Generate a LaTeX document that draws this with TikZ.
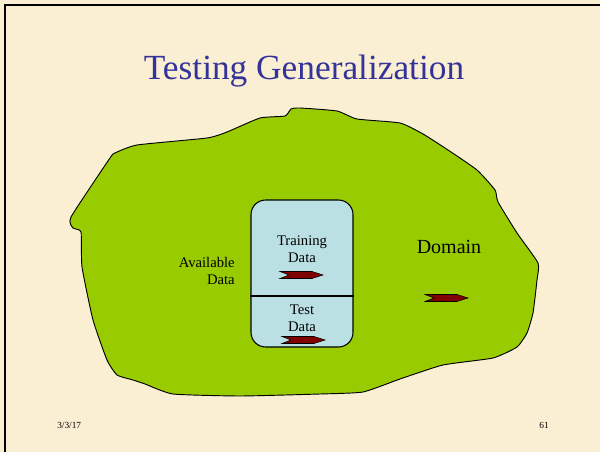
\documentclass[tikz,border=0pt]{standalone}
\usepackage{fontspec}
\setmainfont{Liberation Serif}
\definecolor{paper}{HTML}{FAEFD3}
\definecolor{blob}{HTML}{99CC00}
\definecolor{boxblue}{HTML}{BAE0E4}
\definecolor{titleblue}{HTML}{333399}
\definecolor{arrowred}{HTML}{800000}
\tikzset{
  px/.style={x=0.75pt,y=-0.75pt},
  label/.style={font=\fontsize{11}{12.5}\selectfont, align=center, inner sep=0pt},
  databox/.style={draw=black, line width=0.8pt, fill=boxblue, rounded corners=11pt,
    minimum width=76.5pt, minimum height=110.25pt, inner sep=0pt},
  chev/.pic={\filldraw[fill=arrowred, draw=black, line width=0.4pt]
    (0,-3.5) -- (32,-3.5) -- (43,0) -- (32,3.5) -- (0,3.5) -- (9,0) -- cycle;}
}
\begin{document}
\begin{tikzpicture}[px]
\useasboundingbox (0,0) rectangle (600,452);
\fill[paper] (0,0) rectangle (600,452);
\draw[line width=2pt] (5,452) -- (5,5) -- (600,5);
\node[text=titleblue, font=\fontsize{26.5}{29}\selectfont] (title) at (304,71) {Testing Generalization};
\filldraw[fill=blob, draw=black, line width=0.7pt, line join=round]
  plot[smooth cycle, tension=0.3] coordinates {
  (71,217) (73,228) (81,232) (82,267) (93,320) (107,360) (117,375) (133,380)
  (145,384) (173,394) (240,396) (320,394) (363,392) (400,379) (443,365)
  (493,358) (517,347) (527,333) (533,313) (537,280) (538,263) (517,233)
  (498,202) (495,190) (477,170) (448,150) (423,134) (400,123) (357,119)
  (337,111) (300,108) (291,109) (285,116) (260,118) (227,132) (207,138)
  (137,145) (115,153) (110,158)};
\node[databox] (data) at (302,273.5) {};
\draw[line width=1.6pt] (data.west |- 0,296) coordinate (divl) -- (data.east |- 0,296) coordinate (divr);
\node[label] (train) at (302,249) {Training\\Data};
\node[label] (test) at (302,318) {Test\\Data};
\node[label, align=right, anchor=east] (avail) at (235,271) {Available\\Data};
\node[font=\fontsize{15}{17}\selectfont, inner sep=0pt] (domain) at (449,247) {Domain};
\pic at (280,275) {chev};
\pic at (282,340) {chev};
\pic at (425,298) {chev};
\node[font=\fontsize{7}{8}\selectfont, inner sep=0pt, anchor=west] (date) at (57,425) {3/3/17};
\node[font=\fontsize{7}{8}\selectfont, inner sep=0pt, anchor=east] (page) at (549,425) {61};
\end{tikzpicture}
\end{document}
